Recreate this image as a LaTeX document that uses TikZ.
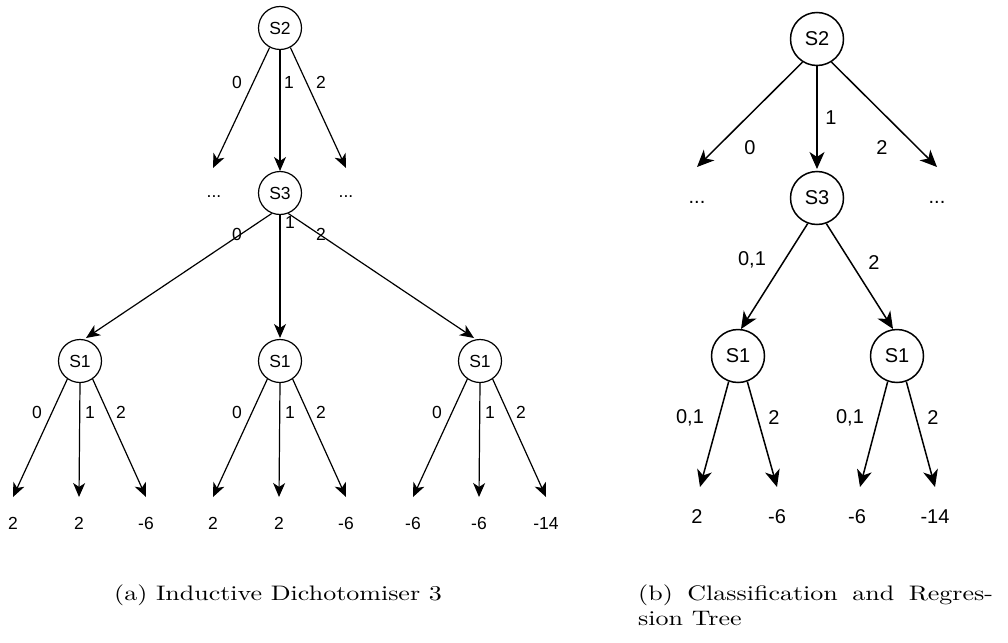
\documentclass[tikz,border=0pt]{standalone}
\usepackage{fontspec}
\usepackage{graphicx}
\newfontfamily\labfont{Liberation Sans}
\usetikzlibrary{arrows.meta}
\begin{document}
\begin{tikzpicture}[x=1pt,y=-1pt,
  nodeL/.style={circle,draw,line width=1.2pt,minimum size=43pt,inner sep=0pt,font=\labfont\fontsize{17.5}{20}\selectfont},
  nodeR/.style={circle,draw,line width=1.5pt,minimum size=53pt,inner sep=0pt,font=\labfont\fontsize{20}{24}\selectfont},
  lblL/.style={inner sep=0pt,font=\labfont\fontsize{17.5}{20}\selectfont},
  lblR/.style={inner sep=0pt,font=\labfont\fontsize{20}{24}\selectfont},
  arrL/.style={line width=1.2pt,-{Stealth[length=14pt,width=12pt,inset=4pt]}},
  arrR/.style={line width=1.5pt,-{Stealth[length=17pt,width=15pt,inset=5pt]}},
  capfont/.style={inner sep=0pt,font=\fontsize{10}{12}\selectfont}
]
\useasboundingbox[fill=white] (0,0) rectangle (1008,642);

% ---------------- left tree (ID3) ----------------
\node[nodeL] (s2) at (280,28) {S2};
\node[nodeL] (s3) at (280,193) {S3};
\coordinate (ta) at (213,168);
\coordinate (tb) at (280,171);
\coordinate (tc) at (346,168);
\draw[arrL] (s2.-118) -- (ta);
\draw[arrL] (s2.south) -- (tb);
\draw[arrL] (s2.-62) -- (tc);
\node[lblL] (la) at (237,82) {0};
\node[lblL] (lb) at (289,82) {1};
\node[lblL] (lc) at (321,82) {2};
\node[lblL] (da) at (214,197) {...};
\node[lblL] (dc) at (346,197) {...};

\foreach \i/\x/\a/\b/\c in {1/80/2/2/-6, 2/280/2/2/-6, 3/480/-6/-6/-14}{
  \node[nodeL] (s1\i) at (\x,361) {S1};
  \coordinate (p\i a) at (\x-67,497);
  \coordinate (p\i b) at (\x-1,497);
  \coordinate (p\i c) at (\x+66,497);
  \draw[arrL] (s1\i.-125) -- (p\i a);
  \draw[arrL] (s1\i.south) -- (p\i b);
  \draw[arrL] (s1\i.-55) -- (p\i c);
  \node[lblL] (e\i a) at (\x-43,412) {0};
  \node[lblL] (e\i b) at (\x+10,412) {1};
  \node[lblL] (e\i c) at (\x+41,412) {2};
  \node[lblL] (v\i a) at (\x-67,523) {\a};
  \node[lblL] (v\i b) at (\x-1,523) {\b};
  \node[lblL] (v\i c) at (\x+66,523) {\c};
}
\coordinate (qa) at (86,338);
\coordinate (qb) at (280,338);
\coordinate (qc) at (474,338);
\draw[arrL] (s3.-112) -- (qa);
\draw[arrL] (s3.south) -- (qb);
\draw[arrL] (s3.-68) -- (qc);
\node[lblL] (ma) at (237,234) {0};
\node[lblL] (mb) at (290,222) {1};
\node[lblL] (mc) at (321,234) {2};

% ---------------- right tree (CART) ----------------
\node[nodeR] (r2) at (817,39) {S2};
\node[nodeR] (r3) at (817,198) {S3};
\coordinate (ua) at (697,167);
\coordinate (ub) at (817,169);
\coordinate (uc) at (937,167);
\draw[arrR] (r2.-122) -- (ua);
\draw[arrR] (r2.south) -- (ub);
\draw[arrR] (r2.-58) -- (uc);
\node[lblR] (ka) at (750,148) {0};
\node[lblR] (kb) at (831,118) {1};
\node[lblR] (kc) at (882,148) {2};
\node[lblR] (ra) at (697,202) {...};
\node[lblR] (rc) at (937,202) {...};

\node[nodeR] (r1a) at (738,356) {S1};
\node[nodeR] (r1b) at (897,356) {S1};
\coordinate (wa) at (741,329);
\coordinate (wb) at (893,329);
\draw[arrR] (r3.-110) -- (wa);
\draw[arrR] (r3.-70) -- (wb);
\node[lblR] (na) at (752,260) {0,1};
\node[lblR] (nb) at (874,263) {2};

\coordinate (xa) at (700,487);
\coordinate (xb) at (777,487);
\coordinate (xc) at (860,487);
\coordinate (xd) at (935,487);
\draw[arrR] (r1a.-110) -- (xa);
\draw[arrR] (r1a.-70) -- (xb);
\draw[arrR] (r1b.-110) -- (xc);
\draw[arrR] (r1b.-70) -- (xd);
\node[lblR] (ga) at (690,418) {0,1};
\node[lblR] (gb) at (774,418) {2};
\node[lblR] (gc) at (850,418) {0,1};
\node[lblR] (gd) at (933,418) {2};
\node[lblR] (ya) at (697,517) {2};
\node[lblR] (yb) at (777,517) {-6};
\node[lblR] (yc) at (857,517) {-6};
\node[lblR] (yd) at (935,517) {-14};

% ---------------- captions ----------------
\node[capfont,anchor=base] (capa) at (278,600) {\scalebox{2.6}[2.1]{(a) Inductive Dichotomiser 3}};
\node[capfont,anchor=base west] (capb1) at (638,600) {\scalebox{2.6}[2.1]{\makebox[136.5pt][s]{(b) Classification and Regres-}}};
\node[capfont,anchor=base west] (capb2) at (638,625) {\scalebox{2.6}[2.1]{sion Tree}};
\end{tikzpicture}
\end{document}
